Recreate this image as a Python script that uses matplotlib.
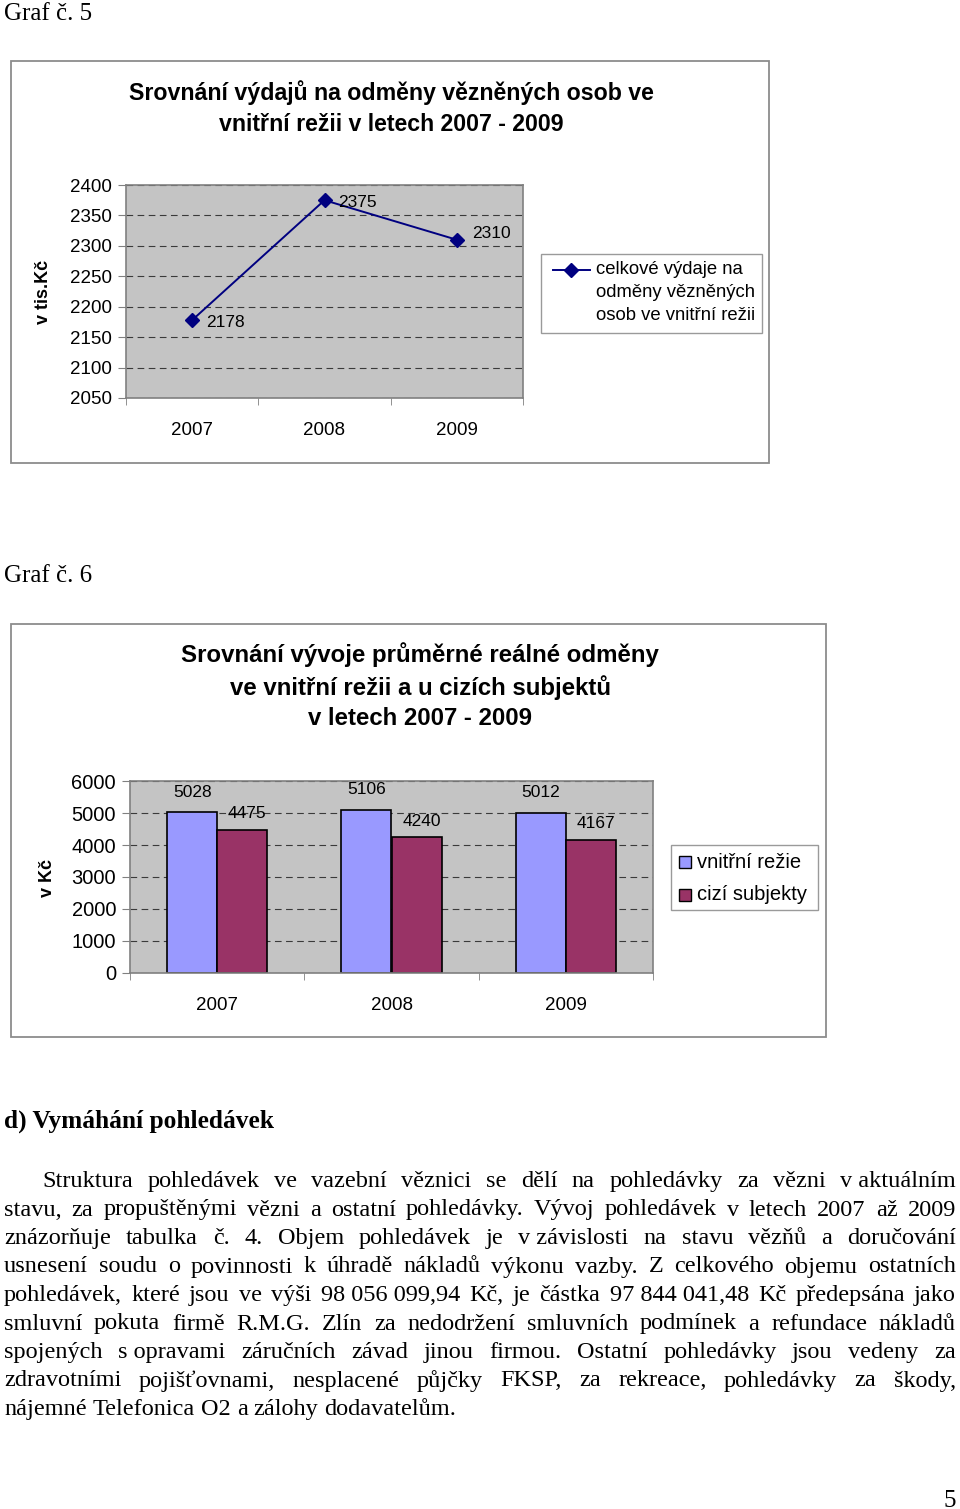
'''
Page with two Excel-style charts (Graf c. 5 and 6) and a paragraph of text.
'''

import matplotlib
matplotlib.use('Agg')
from matplotlib import pyplot as plt
from matplotlib.patches import Rectangle
from matplotlib.lines import Line2D

W, H = 960, 1509

# data
years = ['2007', '2008', '2009']
total_spend = [2178, 2375, 2310]          # v tis. Kc
inner_reward = [5028, 5106, 5012]         # vnitrni rezie
outer_reward = [4475, 4240, 4167]         # cizi subjekty

line_label = ['celkové výdaje na', 'odměny vězněných', 'osob ve vnitřní režii']
bar_labels = ['vnitřní režie', 'cizí subjekty']

para_lines = [
    'Struktura pohledávek ve vazební věznici se dělí na pohledávky za vězni v\u00a0aktuálním',
    'stavu, za propuštěnými vězni a ostatní pohledávky. Vývoj pohledávek v letech 2007 až 2009',
    'znázorňuje tabulka č. 4. Objem pohledávek je v\u00a0závislosti na stavu vězňů a doručování',
    'usnesení soudu o povinnosti k úhradě nákladů výkonu vazby. Z celkového objemu ostatních',
    'pohledávek, které jsou ve výši 98\u00a0056\u00a0099,94 Kč, je částka 97\u00a0844\u00a0041,48 Kč předepsána jako',
    'smluvní pokuta firmě R.M.G. Zlín za nedodržení smluvních podmínek a refundace nákladů',
    'spojených s\u00a0opravami záručních závad jinou firmou. Ostatní pohledávky jsou vedeny za',
    'zdravotními pojišťovnami, nesplacené půjčky FKSP, za rekreace, pohledávky za škody,',
    'nájemné Telefonica O2 a zálohy dodavatelům.',
]

SANS = 'Liberation Sans'
SERIF = 'Liberation Serif'
GRID = '#3a3a3a'
BG = '#c4c4c4'
LINE_C = '#000080'
INNER_C = '#9999ff'
OUTER_C = '#993366'

fig = plt.figure(figsize=(W / 100, H / 100), dpi=100)


def box(x0, y0, x1, y1):
    return [x0 / W, 1 - y1 / H, (x1 - x0) / W, (y1 - y0) / H]


def ftext(x, y, s, **kw):
    return fig.text(x / W, 1 - y / H, s, **kw)


def frame(x0, y0, x1, y1, ec='#8c8c8c', fc='none', lw=1.3):
    fig.patches.append(Rectangle((x0 / W, 1 - y1 / H), (x1 - x0) / W, (y1 - y0) / H,
                                 transform=fig.transFigure, facecolor=fc,
                                 edgecolor=ec, lw=lw))


def style_axes(ax, ysize):
    ax.set_facecolor(BG)
    for s in ax.spines.values():
        s.set_color('#808080')
        s.set_linewidth(1.2)
    ax.set_axisbelow(True)
    ax.yaxis.grid(True, color=GRID, linestyle=(0, (6, 4)), lw=0.8)
    ax.tick_params(axis='y', length=6, color='#808080', labelsize=ysize, pad=4)
    ax.tick_params(axis='x', which='major', length=0, labelsize=13.5, pad=17)
    ax.set_xticks([-0.5, 0.5, 1.5, 2.5], minor=True)
    ax.tick_params(axis='x', which='minor', length=5, color='#808080')
    for lab in ax.get_xticklabels() + ax.get_yticklabels():
        lab.set_family(SANS)


# ---------------- Graf c. 5 ----------------
ftext(4, 20, 'Graf č. 5', family=SERIF, fontsize=18, va='baseline')
frame(11, 61, 769, 463)
ftext(391, 108, 'Srovnání výdajů na odměny vězněných osob ve\nvnitřní režii v letech 2007 - 2009',
      family=SANS, fontsize=16.7, weight='bold', ha='center', va='center', linespacing=1.45)
ftext(44, 292, 'v tis.Kč', family=SANS, fontsize=13, weight='bold', rotation=90,
      ha='center', va='center')

ax1 = fig.add_axes(box(126, 185, 523, 398))
ax1.plot(range(3), total_spend, color=LINE_C, lw=1.4, marker='D', ms=7)
offs = [(14, -2), (14, -2), (15, 6)]
for i, v in enumerate(total_spend):
    ax1.annotate(str(v), (i, v), xytext=offs[i], textcoords='offset pixels',
                 family=SANS, fontsize=12.5, va='center', ha='left')
ax1.set_xlim(-0.5, 2.5)
ax1.set_ylim(2050, 2400)
ax1.set_yticks(range(2050, 2401, 50))
ax1.set_xticks(range(3))
ax1.set_xticklabels(years)
style_axes(ax1, 13.5)

# legend (Excel style: marker beside first text line)
frame(541, 254, 762, 333, ec='#9a9a9a', fc='white', lw=1.0)
fig.add_artist(Line2D([553 / W, 590 / W], [1 - 270 / H] * 2, transform=fig.transFigure,
                      color=LINE_C, lw=1.4))
fig.add_artist(Line2D([571 / W], [1 - 270 / H], transform=fig.transFigure,
                      color=LINE_C, marker='D', ms=7))
for k, s in enumerate(line_label):
    ftext(596, 269 + k * 23.5, s, family=SANS, fontsize=13.3, va='center')

# ---------------- Graf c. 6 ----------------
ftext(4, 582, 'Graf č. 6', family=SERIF, fontsize=18, va='baseline')
frame(11, 624, 826, 1037)
ftext(420, 686, 'Srovnání vývoje průměrné reálné odměny\nve vnitřní režii a u cizích subjektů\nv letech 2007 - 2009',
      family=SANS, fontsize=17.3, weight='bold', ha='center', va='center', linespacing=1.4)
ftext(47, 878, 'v Kč', family=SANS, fontsize=13, weight='bold', rotation=90,
      ha='center', va='center')

ax2 = fig.add_axes(box(130, 781, 653, 973))
bw = 0.287
xs = range(3)
b1 = ax2.bar([x - bw / 2 for x in xs], inner_reward, width=bw, color=INNER_C,
             edgecolor='black', lw=1.2)
b2 = ax2.bar([x + bw / 2 for x in xs], outer_reward, width=bw, color=OUTER_C,
             edgecolor='black', lw=1.2)
for bars, dx, dy in ((b1, 0, 20), (b2, 5, 16)):
    for r in bars:
        ax2.annotate(str(int(r.get_height())), (r.get_x() + r.get_width() / 2, r.get_height()),
                     xytext=(dx, dy), textcoords='offset pixels', family=SANS,
                     fontsize=12.5, ha='center', va='center')
ax2.set_xlim(-0.5, 2.5)
ax2.set_ylim(0, 6000)
ax2.set_yticks(range(0, 6001, 1000))
ax2.set_xticks(range(3))
ax2.set_xticklabels(years)
style_axes(ax2, 14.5)

frame(671, 845, 818, 910, ec='#9a9a9a', fc='white', lw=1.0)
for k, (s, c) in enumerate(zip(bar_labels, [INNER_C, OUTER_C])):
    yc = 862 + k * 33
    frame(679, yc - 6, 691, yc + 6, ec='black', fc=c, lw=1.0)
    ftext(697, yc, s, family=SANS, fontsize=14.5, va='center')

# ---------------- text ----------------
ftext(4, 1128, 'd) Vymáhání pohledávek', family=SERIF, fontsize=18.3, weight='bold',
      va='baseline')

renderer = fig.canvas.get_renderer()


def justify(line, x0, x1, y, last=False):
    words = line.split(' ')
    ts = [ftext(0, y, w, family=SERIF, fontsize=17.5, va='baseline') for w in words]
    widths = [t.get_window_extent(renderer).width for t in ts]
    if last:
        gap = 6
    else:
        gap = (x1 - x0 - sum(widths)) / (len(words) - 1)
    x = x0
    for t, w in zip(ts, widths):
        t.set_x(x / W)
        x += w + gap


y0 = 1187
for i, line in enumerate(para_lines):
    justify(line, 42 if i == 0 else 4, 956, y0 + i * 28.5, last=(i == len(para_lines) - 1))

ftext(956, 1507, '5', family=SERIF, fontsize=18, ha='right', va='baseline')

fig.savefig('out.png', dpi=100)
